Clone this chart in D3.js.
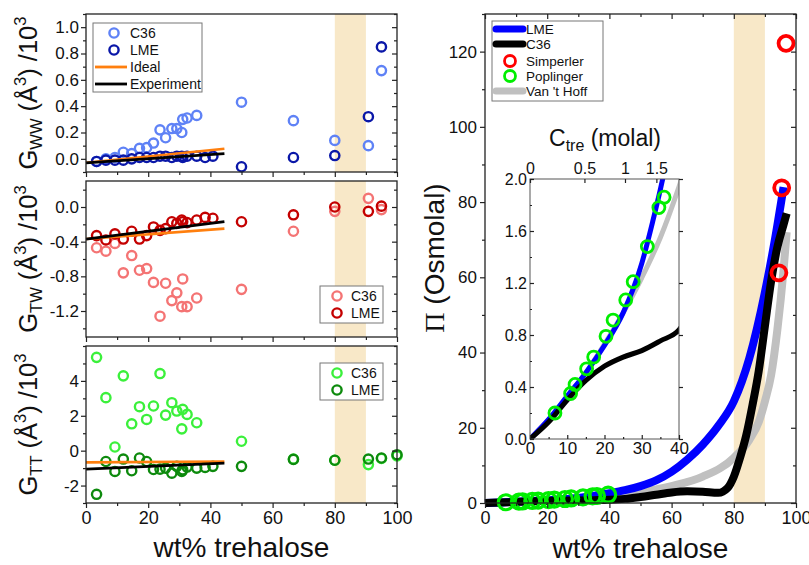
<!DOCTYPE html>
<html>
<head>
<meta charset="utf-8">
<script src="https://cdn.jsdelivr.net/npm/d3@7"></script>
<style>
  body { margin: 0; background: #fff; }
</style>
</head>
<body>
<div id="chart"></div>
<script>
// ---------- left panels: KB integrals vs wt% trehalose ----------
const wtC36 = [3.4, 6.4, 9.3, 12, 14.7, 17.2, 19.5, 21.7, 23.8, 25.6, 27.6, 29.2, 30.8, 31.1, 32.5, 35.6, 50, 66.7, 80, 90.8, 95, 100];
const wtLME = [3.4, 6.4, 9.3, 12, 14.7, 17.2, 19.5, 21.7, 23.8, 25.6, 27.6, 29.2, 30.8, 31.1, 32.5, 35.6, 38.3, 40.8, 50, 66.7, 80, 90.8, 95, 100];

// G_WW / 10^3 (nothing at 100 wt%)
const gwwC36 = [-0.02, 0.0, 0.01, 0.05, 0.04, 0.08, 0.085, 0.12, 0.22, 0.16, 0.23, 0.23, 0.20, 0.30, 0.31, 0.33, 0.43, 0.29, 0.14, 0.10, 0.67, null];
const gwwLME = [-0.02, -0.01, -0.01, -0.01, 0.0, 0.01, 0.01, 0.01, 0.02, 0.02, 0.01, 0.02, 0.02, 0.01, 0.02, 0.02, 0.01, 0.02, -0.06, 0.01, 0.025, 0.32, 0.85, null];
// G_TW / 10^3
const gtwC36 = [-0.47, -0.51, -0.42, -0.76, -0.56, -0.73, -0.71, -0.87, -1.26, -0.88, -1.08, -0.99, -1.15, -0.83, -1.15, -1.05, -0.95, -0.28, -0.05, 0.10, -0.03, null];
const gtwLME = [-0.33, -0.38, -0.31, -0.37, -0.28, -0.37, -0.33, -0.23, -0.27, -0.25, -0.17, -0.19, -0.15, -0.17, -0.18, -0.15, -0.12, -0.13, -0.17, -0.09, 0.0, -0.05, 0.01, null];
// G_TT / 10^3
const gttC36 = [5.35, 3.04, 0.21, 4.29, 1.54, 2.52, 1.79, 2.56, 4.42, 2.04, 2.75, 2.27, 1.25, 2.37, 2.08, 1.60, 0.54, -0.48, -0.55, -0.8, -0.45, -0.3];
const gttLME = [-2.5, -0.62, -1.19, -0.48, -1.15, -0.42, -0.62, -1.08, -1.06, -1.0, -1.29, -0.9, -1.19, -1.1, -0.94, -1.0, -0.96, -0.9, -0.9, -0.5, -0.55, -0.48, -0.42, -0.23];

// ideal / experiment straight lines (end points)
const refWt = [0, 44.5];
const wwIdeal = [-0.03, 0.077], wwExp = [-0.03, 0.04];
const twIdeal = [-0.37, -0.25], twExp = [-0.37, -0.17];
const ttIdeal = [-0.67, -0.62], ttExp = [-1.06, -0.71];

// ---------- right panel: osmotic pressure ----------
const lmeWt = [0, 5, 10, 15, 20, 25, 30, 33, 35, 36, 40, 45, 50, 55, 60, 65, 70, 75, 80, 85, 90, 93, 96];
const lmePi = [0, 0.15, 0.33, 0.51, 0.72, 0.97, 1.35, 1.68, 1.92, 2.05, 2.6, 3.4, 4.5, 6.0, 8.3, 11.5, 15.5, 20.5, 27, 38.5, 56, 69, 84];
const c36Wt = [0, 5, 10, 15, 20, 25, 30, 35, 40, 45, 50, 55, 60, 65, 70, 75, 78, 80, 82, 84, 86, 88, 90, 92, 94, 96, 97];
const c36Pi = [0, 0.13, 0.30, 0.45, 0.56, 0.63, 0.68, 0.755, 0.84, 1.1, 1.6, 2.2, 2.8, 3.1, 3.0, 2.7, 4, 7, 12, 18, 26, 35, 47, 59, 68, 74, 77];
const vhWt = [0, 5, 10, 15, 20, 25, 30, 35, 40, 50, 60, 70, 80, 85, 88, 90, 92, 94, 96, 97];
const vhPi = [0, 0.15, 0.33, 0.51, 0.73, 0.97, 1.24, 1.55, 1.94, 2.9, 4.5, 7.0, 12, 16.8, 21.5, 27, 34, 46, 62, 72];
const simpWt = [94.5, 95.4, 96.8];
const simpPi = [61.2, 83.8, 122.2];
const popWt = [6.7, 10.9, 12.1, 15.2, 17.1, 20.4, 22.3, 25.7, 27.7, 31.5, 34.6, 36.0, 39.6];
const popPi = [0.20, 0.35, 0.42, 0.54, 0.63, 0.79, 0.915, 1.07, 1.21, 1.48, 1.78, 1.86, 2.2];

// tick labels
const xTicks = [0, 20, 40, 60, 80, 100];
const wwTicks = [0, 0.2, 0.4, 0.6, 0.8, 1.0];
const twTicks = [-1.2, -0.8, -0.4, 0.0];
const ttTicks = [-2, 0, 2, 4];
const piTicks = [0, 20, 40, 60, 80, 100, 120];
const insetYTicks = [0, 0.4, 0.8, 1.2, 1.6, 2.0];
const insetXTicks = [0, 10, 20, 30, 40];
const molalTicks = [0, 0.5, 1, 1.5];
const molalLabels = ["0", "0.5", "1", "1.5"];

const band = [80, 90];

const FONT = "'Liberation Sans', Arial, sans-serif";
const svg = d3.select("#chart").append("svg")
    .attr("width", 809)
    .attr("height", 565)
    .style("font-family", FONT);

// half-step minor ticks inside a domain
function minors(major, domain) {
    const step = (major[1] - major[0]) / 2;
    const out = [];
    for (let v = major[0] - step; v <= domain[1] + 1e-9; v += step) {
        if (v < domain[0] - 1e-9) continue;
        if (!major.some(m => Math.abs(m - v) < 1e-9)) out.push(+v.toFixed(6));
    }
    return out;
}

function addAxis(parent, orient, scale, values, size, pos, fmt, fs, pad) {
    const maker = { bottom: d3.axisBottom, top: d3.axisTop, left: d3.axisLeft, right: d3.axisRight }[orient];
    const ax = maker(scale).tickValues(values).tickSizeInner(size).tickSizeOuter(0)
        .tickPadding(pad == null ? 3 : pad).tickFormat(fmt || (() => ""));
    const horiz = orient === "bottom" || orient === "top";
    const g = parent.append("g")
        .attr("transform", horiz ? `translate(0,${pos})` : `translate(${pos},0)`)
        .call(ax);
    g.select(".domain").remove();
    g.attr("font-family", FONT).attr("font-size", fs || 17);
    g.selectAll(".tick line").attr("stroke", "#222").attr("stroke-width", 1.2);
    g.selectAll(".tick text").attr("fill", "#111");
    return g;
}

const oneDec = d => d.toFixed(1);
const plain = d => String(d);

// ================= left column =================
const xL = d3.scaleLinear().domain([0, 100]).range([86, 397]);

const panels = [
    { top: 14, bottom: 172, domain: [-0.1, 1.1], ticks: wwTicks, fmt: oneDec, c36: gwwC36, lme: gwwLME,
      ideal: wwIdeal, exp: wwExp, colC36: "#5f82f6", colLME: "#0a17a8", sub: "WW" },
    { top: 181, bottom: 337, domain: [-1.5, 0.3], ticks: twTicks, fmt: oneDec, c36: gtwC36, lme: gtwLME,
      ideal: twIdeal, exp: twExp, colC36: "#f47474", colLME: "#c40000", sub: "TW" },
    { top: 346, bottom: 503, domain: [-3, 6], ticks: ttTicks, fmt: plain, c36: gttC36, lme: gttLME,
      ideal: ttIdeal, exp: ttExp, colC36: "#3bf03b", colLME: "#0d8a0d", sub: "TT" }
];

panels.forEach((p, pi) => {
    const y = d3.scaleLinear().domain(p.domain).range([p.bottom, p.top]);
    const g = svg.append("g");

    g.append("rect")
        .attr("x", xL(band[0])).attr("y", p.top)
        .attr("width", xL(band[1]) - xL(band[0])).attr("height", p.bottom - p.top)
        .attr("fill", "#f8e8c8");

    const c36 = wtC36.map((w, i) => ({ w, v: p.c36[i] })).filter(d => d.v != null);
    const lme = wtLME.map((w, i) => ({ w, v: p.lme[i] })).filter(d => d.v != null);

    g.selectAll(".c36").data(c36).enter().append("circle")
        .attr("cx", d => xL(d.w)).attr("cy", d => y(d.v)).attr("r", 4.6)
        .attr("fill", "none").attr("stroke", p.colC36).attr("stroke-width", 2.4);
    g.selectAll(".lme").data(lme).enter().append("circle")
        .attr("cx", d => xL(d.w)).attr("cy", d => y(d.v)).attr("r", 4.6)
        .attr("fill", "none").attr("stroke", p.colLME).attr("stroke-width", 2.4);

    const line = d3.line().x(d => xL(d[0])).y(d => y(d[1]));
    g.append("path").datum(refWt.map((w, i) => [w, p.ideal[i]]))
        .attr("d", line).attr("fill", "none").attr("stroke", "#ff7f0e").attr("stroke-width", 2.6);
    g.append("path").datum(refWt.map((w, i) => [w, p.exp[i]]))
        .attr("d", line).attr("fill", "none").attr("stroke", "#000").attr("stroke-width", 2.8);

    // frame + ticks
    g.append("rect").attr("x", 86).attr("y", p.top).attr("width", 311).attr("height", p.bottom - p.top)
        .attr("fill", "none").attr("stroke", "#222").attr("stroke-width", 1.3);
    const yMinor = minors(p.ticks, p.domain);
    addAxis(g, "left", y, p.ticks, 5, 86, p.fmt, 17, 2);
    addAxis(g, "left", y, yMinor, 3, 86);
    addAxis(g, "right", y, p.ticks, -5, 397);
    addAxis(g, "right", y, yMinor, -3, 397);
    const last = pi === panels.length - 1;
    addAxis(g, "bottom", xL, xTicks, 5, p.bottom, last ? plain : null, 18);
    addAxis(g, "bottom", xL, minors(xTicks, [0, 100]), 3, p.bottom);

    // y title
    const t = g.append("text")
        .attr("transform", `translate(37,${(p.top + p.bottom) / 2}) rotate(-90)`)
        .attr("text-anchor", "middle").attr("font-size", 25.5).attr("fill", "#111");
    t.append("tspan").text("G");
    t.append("tspan").attr("font-size", 16.5).attr("dy", 5).text(p.sub);
    t.append("tspan").attr("dy", -5).text(" (Å");
    t.append("tspan").attr("font-size", 16.5).attr("dy", -11).text("3");
    t.append("tspan").attr("dy", 11).text(") /10");
    t.append("tspan").attr("font-size", 16.5).attr("dy", -11).text("3");
});

svg.append("text").attr("x", 241.5).attr("y", 557).attr("text-anchor", "middle")
    .attr("font-size", 28).attr("fill", "#111").text("wt% trehalose");

// legends, left column
function circleItem(g, x, y, color, r, sw) {
    g.append("circle").attr("cx", x).attr("cy", y).attr("r", r).attr("fill", "none")
        .attr("stroke", color).attr("stroke-width", sw);
}
function lineItem(g, x0, x1, y, color, sw, cap) {
    g.append("line").attr("x1", x0).attr("x2", x1).attr("y1", y).attr("y2", y)
        .attr("stroke", color).attr("stroke-width", sw).attr("stroke-linecap", cap || "butt");
}
function label(g, x, y, s, fs) {
    g.append("text").attr("x", x).attr("y", y + 5).attr("font-size", fs || 14).attr("fill", "#111").text(s);
}

const lg1 = svg.append("g");
lg1.append("rect").attr("x", 93).attr("y", 23).attr("width", 109).attr("height", 69)
    .attr("fill", "#fff").attr("stroke", "#777").attr("stroke-width", 1);
circleItem(lg1, 114, 33, panels[0].colC36, 4.6, 2.4); label(lg1, 130, 33, "C36");
circleItem(lg1, 114, 50, panels[0].colLME, 4.6, 2.4); label(lg1, 130, 50, "LME");
lineItem(lg1, 95, 127, 67, "#ff7f0e", 2.8); label(lg1, 130, 67, "Ideal");
lineItem(lg1, 95, 127, 84, "#000", 2.8); label(lg1, 130, 84, "Experiment");

[[1, 286], [2, 363]].forEach(([k, top]) => {
    const lg = svg.append("g");
    lg.append("rect").attr("x", 320).attr("y", top).attr("width", 63).attr("height", 37)
        .attr("fill", "#fff").attr("stroke", "#777").attr("stroke-width", 1);
    circleItem(lg, 337, top + 10, panels[k].colC36, 4.6, 2.4); label(lg, 351, top + 10, "C36");
    circleItem(lg, 337, top + 27, panels[k].colLME, 4.6, 2.4); label(lg, 351, top + 27, "LME");
});

// ================= right panel =================
const xR = d3.scaleLinear().domain([0, 100]).range([485, 796]);
const yR = d3.scaleLinear().domain([0, 130]).range([503, 14]);
const gR = svg.append("g");

gR.append("rect").attr("x", xR(band[0])).attr("y", 14)
    .attr("width", xR(band[1]) - xR(band[0])).attr("height", 489).attr("fill", "#f8e8c8");

const curves = [
    { wt: vhWt, pi: vhPi, color: "#c0c0c0" },
    { wt: lmeWt, pi: lmePi, color: "#0000ff" },
    { wt: c36Wt, pi: c36Pi, color: "#000000" }
];

const lineR = d3.line().curve(d3.curveMonotoneX).x(d => xR(d[0])).y(d => yR(d[1]));
curves.forEach(c => {
    gR.append("path").datum(c.wt.map((w, i) => [w, c.pi[i]]))
        .attr("d", lineR).attr("fill", "none").attr("stroke", c.color).attr("stroke-width", 8);
});

gR.selectAll(".pop").data(popWt.map((w, i) => [w, popPi[i]])).enter().append("circle")
    .attr("cx", d => xR(d[0])).attr("cy", d => yR(d[1])).attr("r", 7.5)
    .attr("fill", "none").attr("stroke", "#00ee00").attr("stroke-width", 3.2);
gR.selectAll(".simp").data(simpWt.map((w, i) => [w, simpPi[i]])).enter().append("circle")
    .attr("cx", d => xR(d[0])).attr("cy", d => yR(d[1])).attr("r", 7.5)
    .attr("fill", "none").attr("stroke", "#ff0000").attr("stroke-width", 3.8);

gR.append("rect").attr("x", 485).attr("y", 14).attr("width", 311).attr("height", 489)
    .attr("fill", "none").attr("stroke", "#222").attr("stroke-width", 1.3);
const piMinor = minors(piTicks, [0, 130]);
const xMinor = minors(xTicks, [0, 100]);
addAxis(gR, "left", yR, piTicks, 5, 485, plain, 17, 3);
addAxis(gR, "left", yR, piMinor, 3, 485);
addAxis(gR, "right", yR, piTicks, -5, 796);
addAxis(gR, "right", yR, piMinor, -3, 796);
addAxis(gR, "bottom", xR, xTicks, 5, 503, plain, 18);
addAxis(gR, "bottom", xR, xMinor, 3, 503);
addAxis(gR, "top", xR, xTicks, -5, 14);
addAxis(gR, "top", xR, xMinor, -3, 14);

const piTitle = gR.append("text")
    .attr("transform", `translate(444,258) rotate(-90)`)
    .attr("text-anchor", "middle").attr("font-size", 28).attr("fill", "#111");
piTitle.append("tspan").attr("font-family", "'Liberation Serif', 'Times New Roman', serif").text("Π");
piTitle.append("tspan").text(" (Osmolal)");

svg.append("text").attr("x", 640.5).attr("y", 558).attr("text-anchor", "middle")
    .attr("font-size", 28).attr("fill", "#111").text("wt% trehalose");

// legend, right panel
const lg2 = svg.append("g");
lg2.append("rect").attr("x", 492).attr("y", 21).attr("width", 111).attr("height", 80)
    .attr("fill", "#fff").attr("stroke", "#777").attr("stroke-width", 1);
lineItem(lg2, 496, 523, 29, "#0000ff", 7, "round"); label(lg2, 526, 29, "LME", 13.5);
lineItem(lg2, 496, 523, 44, "#000", 7, "round"); label(lg2, 526, 44, "C36", 13.5);
circleItem(lg2, 510, 61, "#ff0000", 5.5, 2.8); label(lg2, 526, 61, "Simperler", 13.5);
circleItem(lg2, 510, 76, "#00ee00", 5.5, 2.8); label(lg2, 526, 76, "Poplinger", 13.5);
lineItem(lg2, 496, 523, 91, "#c0c0c0", 7, "round"); label(lg2, 526, 91, "Van 't Hoff", 13.5);

// ================= inset =================
const xI = d3.scaleLinear().domain([0, 40]).range([530, 679]);
const yI = d3.scaleLinear().domain([0, 2]).range([439, 179]);
const gI = svg.append("g");
gI.append("rect").attr("x", 530).attr("y", 179).attr("width", 149).attr("height", 260).attr("fill", "#fff");

svg.append("defs").append("clipPath").attr("id", "insetClip")
    .append("rect").attr("x", 530).attr("y", 179).attr("width", 149).attr("height", 260);
const gIc = gI.append("g").attr("clip-path", "url(#insetClip)");

const lineI = d3.line().curve(d3.curveMonotoneX).x(d => xI(d[0])).y(d => yI(d[1]));
curves.forEach(c => {
    gIc.append("path").datum(c.wt.map((w, i) => [w, c.pi[i]]))
        .attr("d", lineI).attr("fill", "none").attr("stroke", c.color).attr("stroke-width", 5);
});
gIc.selectAll(".popI").data(popWt.map((w, i) => [w, popPi[i]])).enter().append("circle")
    .attr("cx", d => xI(d[0])).attr("cy", d => yI(d[1])).attr("r", 6)
    .attr("fill", "none").attr("stroke", "#00ee00").attr("stroke-width", 2.8);

gI.append("rect").attr("x", 530).attr("y", 179).attr("width", 149).attr("height", 260)
    .attr("fill", "none").attr("stroke", "#555").attr("stroke-width", 1);
addAxis(gI, "left", yI, insetYTicks, -4, 530, oneDec, 16, 3);
addAxis(gI, "left", yI, minors(insetYTicks, [0, 2]), -2, 530);
addAxis(gI, "right", yI, insetYTicks, 4, 679);
addAxis(gI, "bottom", xI, insetXTicks, -4, 439, plain, 17, 3);
addAxis(gI, "bottom", xI, minors(insetXTicks, [0, 40]), -2, 439);

// molality scale on top: wt% of a trehalose solution at molality m
const molalToWt = m => 100 * m * 342.3 / (1000 + m * 342.3);
addAxis(gI, "top", xI, molalTicks.map(molalToWt), -4, 179, (d, i) => molalLabels[i], 16, 5);

const cTitle = svg.append("text").attr("x", 605).attr("y", 146).attr("text-anchor", "middle")
    .attr("font-size", 23).attr("fill", "#111");
cTitle.append("tspan").text("C");
cTitle.append("tspan").attr("font-size", 16).attr("dy", 5).text("tre");
cTitle.append("tspan").attr("dy", -5).text(" (molal)");
</script>
</body>
</html>
